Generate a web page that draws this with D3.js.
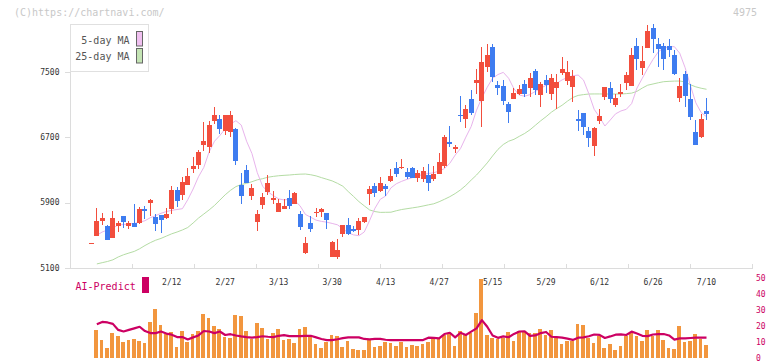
<!DOCTYPE html>
<html>
<head>
<meta charset="utf-8">
<script src="https://cdn.jsdelivr.net/npm/d3@7/dist/d3.min.js"></script>
<style>
  html, body { margin: 0; padding: 0; background: #fff; }
  svg { display: block; font-family: "DejaVu Sans Mono", monospace; }
</style>
</head>
<body>
<svg id="chart" width="772" height="361"></svg>
<script>
// ---------- DATA (one entry per trading day, 2020/1/21 .. 7/10) ----------
const openP  = [5400,5491,5678,5613,5470,5617,5736,5617,5650,5650,5821,5898,5727,5748,5708,5825,6054,5996,6118,6310,
  6359,6604,6583,6901,6922,6778,6759,6796,6115,6298,5980,5662,5870,6033,5931,5788,5821,5960,5882,5760,
  5287,5654,5776,5788,5776,5238,5238,5516,5626,5577,5565,5666,6005,6102,6045,6102,6167,6322,6326,6273,
  6326,6204,6188,6237,6188,6249,6347,6640,6559,6975,6922,7168,7365,7144,7561,7806,7337,7325,7105,7166,
  7227,7349,7305,7508,7215,7401,7227,7305,7488,7386,7317,6926,6991,6775,6591,6901,7194,7297,7097,7231,
  7366,7329,7814,7541,7786,8038,7838,7818,7814,7708,7182,7472,7166,6760,6705,7023];
const highP  = [5400,5837,5769,5626,5797,5678,5736,5678,5882,5842,5858,5940,5760,5748,5830,6106,6090,6216,6318,6461,
  6543,6885,6901,7072,6970,6970,7019,6808,6265,6359,6131,5809,6021,6237,6041,5940,5940,6054,6033,5797,
  5483,5736,5837,5837,5776,5434,5450,5626,5708,5613,5708,5720,6102,6135,6208,6127,6306,6392,6428,6318,
  6339,6298,6330,6371,6347,6510,6726,6836,6604,7197,7095,7279,7535,7796,7838,7838,7390,7401,7133,7297,
  7337,7401,7488,7529,7378,7459,7468,7476,7680,7631,7520,7032,6991,6820,6820,7040,7317,7378,7227,7345,
  7500,7786,7908,7814,8071,8083,7908,7854,7896,7769,7419,7508,7345,6909,6983,7182];
const lowP   = [5400,5491,5626,5442,5470,5544,5593,5577,5605,5638,5703,5739,5556,5532,5703,5764,5850,5931,6118,6265,
  6310,6534,6510,6860,6742,6730,6705,6359,5886,6143,5931,5556,5821,5992,5882,5788,5821,5821,5882,5565,
  5271,5544,5727,5727,5577,5238,5210,5483,5504,5536,5504,5646,5870,5972,6025,5984,6155,6216,6306,6184,
  6196,6155,6155,6045,6167,6249,6318,6575,6510,6889,6815,6970,7226,6828,7500,7378,7215,7093,6877,7166,
  7215,7194,7194,7219,7072,7236,7154,7040,7459,7337,7133,6775,6726,6583,6469,6860,7154,7113,7072,7186,
  7276,7329,7520,7459,7786,7725,7561,7520,7680,7459,7133,7072,6909,6604,6693,6909];
const closeP = [5400,5675,5708,5442,5708,5650,5666,5650,5605,5821,5800,5931,5642,5690,5760,6054,5923,6155,6225,6347,
  6518,6653,6848,6970,6803,6970,6970,6413,5984,6143,6074,5760,5972,6143,5960,5898,5858,5862,6021,5597,
  5409,5573,5788,5817,5687,5422,5320,5626,5516,5556,5675,5720,6062,6021,6143,6070,6225,6249,6339,6216,
  6196,6257,6290,6143,6249,6396,6705,6616,6583,6958,7046,7001,7401,7617,7704,7439,7297,7144,7011,7244,
  7293,7227,7427,7276,7349,7332,7427,7378,7537,7500,7447,6893,6828,6693,6815,6958,7309,7166,7182,7256,
  7459,7708,7659,7631,7997,7896,7773,7659,7769,7472,7329,7203,6950,6604,6922,6979];

// volume (right axis, 0-50); first day has no bar
const volume = [null,17.4,11.1,6.1,15.5,13.6,9.9,11.1,11.8,10.5,9.2,22.5,30.6,20.6,14.9,16.2,6.7,16.8,9.9,14.9,
  16.8,27.5,25,19.9,18,13,12.4,26.9,26.2,16.8,11.8,21.8,18.7,11.8,15.5,18,11.1,11.8,9.2,18,
  19.3,13,8.6,6.1,9.9,14.3,13.6,6.7,10.5,5.5,4.8,4.8,11.1,6.7,7.3,9.9,9.2,7.6,10.1,6.5,
  8,7.3,8.6,10.1,12.8,12.2,14.3,15.3,7.3,16.8,14.3,15.3,28.3,49.5,14.3,12.6,11.8,12.6,16.4,10.7,
  16.8,16.2,15.7,15.7,18,14.3,17.4,12.6,8.6,10.7,10.7,21.2,20.6,12.2,9.4,13.6,6.1,8.6,4.8,7.6,
  13.6,15.7,13.6,10.7,17.4,13.6,17.4,11.1,6.1,5.5,19.9,10.1,10.5,14.9,11.8,8];

// AI-Predict line, same right axis
const aiPredict = [null,21,22.5,22.2,21.3,17.5,16.5,17.5,18.5,19.5,16.8,15.5,15.5,16.5,15.2,14.5,13,13,11.5,12.8,
  14,16.8,16.5,15.5,16.5,14.3,14.8,14,13.4,13,12.7,13,13.5,13.2,13,13.8,14.2,13.6,13.6,13.6,
  13.7,13.8,12.8,11.8,11.1,11.1,11.6,12.3,12.8,12.8,12.8,11.8,11.6,11.8,11.8,11.3,11.1,11.1,11.1,11.1,
  11.1,11.1,11.1,12.6,12.5,12.2,14.9,15.7,12.8,15.7,14.3,16.4,18.5,23.7,19.5,14,12.5,13.4,12.9,15,
  16.5,16.6,13.8,14,15.5,16.2,13.2,13,12.6,12,11.2,12.6,12.8,13.5,14.6,14.4,12.4,13.4,14.5,14.7,
  14.3,16.4,15.2,13.8,13.6,14.6,14.8,14.9,14,11.4,12.2,12.2,12.4,12.6,12.6,12.6];

// moving averages as drawn on the chart
const ma5 = [null,5500,5540,5565,5590,5625,5632,5638,5645,5660,5678,5715,5740,5769,5790,5805,5815,5825,5935,6065,
  6215,6330,6520,6650,6720,6800,6860,6901,6848,6650,6500,6265,6100,6030,5985,5945,5932,5940,5925,5860,
  5755,5720,5685,5670,5660,5645,5628,5580,5530,5505,5495,5540,5680,5830,5940,5980,6080,6130,6160,6184,
  6205,6225,6245,6255,6265,6285,6315,6380,6480,6560,6700,6830,7030,7180,7310,7420,7465,7492,7420,7290,
  7215,7200,7220,7260,7295,7335,7350,7358,7400,7430,7450,7459,7398,7230,7040,6945,6836,6909,6985,7020,
  7040,7110,7300,7420,7540,7650,7744,7790,7806,7806,7725,7550,7330,7120,7000,6950];
const ma25 = [null,5150,5165,5180,5200,5235,5262,5283,5303,5335,5375,5410,5440,5462,5490,5518,5540,5565,5595,5650,
  5710,5760,5810,5865,5930,5995,6050,6095,6120,6135,6155,6178,6192,6210,6220,6228,6233,6237,6243,6247,
  6249,6240,6226,6205,6185,6165,6135,6100,6035,5975,5912,5860,5810,5790,5780,5781,5782,5800,5815,5825,
  5835,5845,5858,5872,5885,5910,5940,5972,6010,6055,6110,6175,6237,6310,6385,6470,6550,6610,6650,6673,
  6710,6745,6790,6845,6900,6950,7005,7050,7090,7140,7185,7210,7220,7227,7228,7228,7227,7227,7227,7227,
  7232,7238,7260,7300,7335,7350,7365,7378,7382,7385,7386,7375,7340,7315,7298,7285];

const dateLabels = ["2/12","2/27","3/13","3/30","4/13","4/27","5/15","5/29","6/12","6/26","7/10"];
const dateLabelIdx = [15,25,35,45,55,65,75,85,95,105,115];
const priceTicks = [5100,5900,6700,7500];
const volTicks = [0,10,20,30,40,50];

// ---------- COLORS ----------
const UP = "#f24e3d", DOWN = "#3e7cf0";
const AXIS = "#dcdcdc", LABEL = "#333";
const AI_COL = "#cc0063", VOL_COL = "#f2963e";

// ---------- SCALES ----------
const svg = d3.select("#chart");
const N = closeP.length;
const x = d3.scaleLinear().domain([0, N - 1]).range([91.5, 706.5]);
const y = d3.scaleLinear().domain([5100, 7500]).range([268, 71.7]);
const yv = d3.scaleLinear().domain([0, 50]).range([357.7, 278.3]);
const xDiv = d3.scaleLinear().domain([0, 11]).range([70.5, 752]);   // axis divisions

// ---------- HEADER TEXT ----------
svg.append("text").attr("x", 14).attr("y", 16).attr("font-size", 10).attr("fill", "#c8c8c8")
  .text("(C)https://chartnavi.com/");
svg.append("text").attr("x", 757).attr("y", 16).attr("font-size", 10).attr("fill", "#c8c8c8")
  .attr("text-anchor", "end").text("4975");

// ---------- AXES ----------
const ax = svg.append("g").attr("shape-rendering", "crispEdges");
ax.append("line").attr("x1", 70.5).attr("x2", 70.5).attr("y1", 24).attr("y2", 268.5).attr("stroke", AXIS);
ax.append("line").attr("x1", 70).attr("x2", 752.5).attr("y1", 268.5).attr("y2", 268.5).attr("stroke", AXIS);
ax.selectAll("line.xt").data(d3.range(1, 12)).join("line").attr("class", "xt")
  .attr("x1", d => Math.round(xDiv(d)) + 0.5).attr("x2", d => Math.round(xDiv(d)) + 0.5)
  .attr("y1", 264).attr("y2", 268).attr("stroke", AXIS);
ax.selectAll("line.yt").data(priceTicks).join("line").attr("class", "yt")
  .attr("x1", 65).attr("x2", 70).attr("y1", d => Math.round(y(d)) + 0.5).attr("y2", d => Math.round(y(d)) + 0.5)
  .attr("stroke", AXIS);

svg.selectAll("text.yl").data(priceTicks).join("text").attr("class", "yl")
  .attr("x", 59.5).attr("y", d => y(d) + 2.8).attr("text-anchor", "end")
  .attr("font-size", 8).attr("fill", LABEL).text(d => d);

svg.selectAll("text.xl").data(dateLabels).join("text").attr("class", "xl")
  .attr("x", (d, k) => x(dateLabelIdx[k])).attr("y", 285).attr("text-anchor", "middle")
  .attr("font-size", 8).attr("fill", LABEL).text(d => d);

svg.selectAll("text.vl").data(volTicks).join("text").attr("class", "vl")
  .attr("x", 756).attr("y", d => yv(d) + 2.8)
  .attr("font-size", 8).attr("fill", AI_COL).text(d => d);

// ---------- MOVING AVERAGES ----------
function maLine(arr, color) {
  const line = d3.line().defined(d => d != null).x((d, i) => x(i)).y(d => y(d));
  svg.append("path").attr("d", line(arr)).attr("fill", "none")
    .attr("stroke", color).attr("stroke-width", 1);
}
maLine(ma25, "#b4dca4");
maLine(ma5, "#e8b4ec");

// ---------- CANDLES ----------
const cg = svg.append("g").attr("shape-rendering", "crispEdges");
const idx = d3.range(N);
const colorOf = i => closeP[i] >= openP[i] ? UP : DOWN;
cg.selectAll("rect.wick").data(idx).join("rect").attr("class", "wick")
  .attr("x", i => Math.round(x(i) - 0.5)).attr("width", 1)
  .attr("y", i => y(highP[i])).attr("height", i => Math.max(1, y(lowP[i]) - y(highP[i])))
  .attr("fill", colorOf);
cg.selectAll("rect.body").data(idx).join("rect").attr("class", "body")
  .attr("x", i => Math.round(x(i) - 2.5)).attr("width", 5)
  .attr("y", i => y(Math.max(openP[i], closeP[i])))
  .attr("height", i => Math.max(1, Math.abs(y(openP[i]) - y(closeP[i]))))
  .attr("fill", colorOf);

// ---------- LEGEND ----------
const lg = svg.append("g");
lg.append("rect").attr("x", 70.5).attr("y", 24.5).attr("width", 78).attr("height", 47)
  .attr("fill", "#fff").attr("stroke", "#e0e0e0");
const legendItems = [["5-day MA", "#f0c0f0"], ["25-day MA", "#c4e4b4"]];
legendItems.forEach(([name, col], k) => {
  lg.append("text").attr("x", 129.5).attr("y", 43.5 + k * 16.5).attr("text-anchor", "end")
    .attr("font-size", 10).attr("fill", "#555").text(name);
  lg.append("rect").attr("x", 136.5).attr("y", 31.5 + k * 17).attr("width", 6).attr("height", 14.5)
    .attr("fill", col).attr("stroke", "#666");
});

// ---------- VOLUME + AI-PREDICT ----------
svg.append("text").attr("x", 75.5).attr("y", 290).attr("font-size", 10).attr("fill", AI_COL).text("AI-Predict");
svg.append("rect").attr("x", 142).attr("y", 277).attr("width", 7).attr("height", 16).attr("fill", AI_COL);

svg.append("g").attr("shape-rendering", "crispEdges")
  .selectAll("rect").data(idx.filter(i => volume[i] != null)).join("rect")
  .attr("x", i => x(i) - 2.4).attr("width", 3.7)
  .attr("y", i => yv(volume[i])).attr("height", i => yv(0) - yv(volume[i]))
  .attr("fill", VOL_COL);

const aiLine = d3.line().defined(d => d != null).x((d, i) => x(i)).y(d => yv(d));
svg.append("path").attr("d", aiLine(aiPredict)).attr("fill", "none")
  .attr("stroke", AI_COL).attr("stroke-width", 2.2).attr("stroke-linejoin", "round");
</script>
</body>
</html>
